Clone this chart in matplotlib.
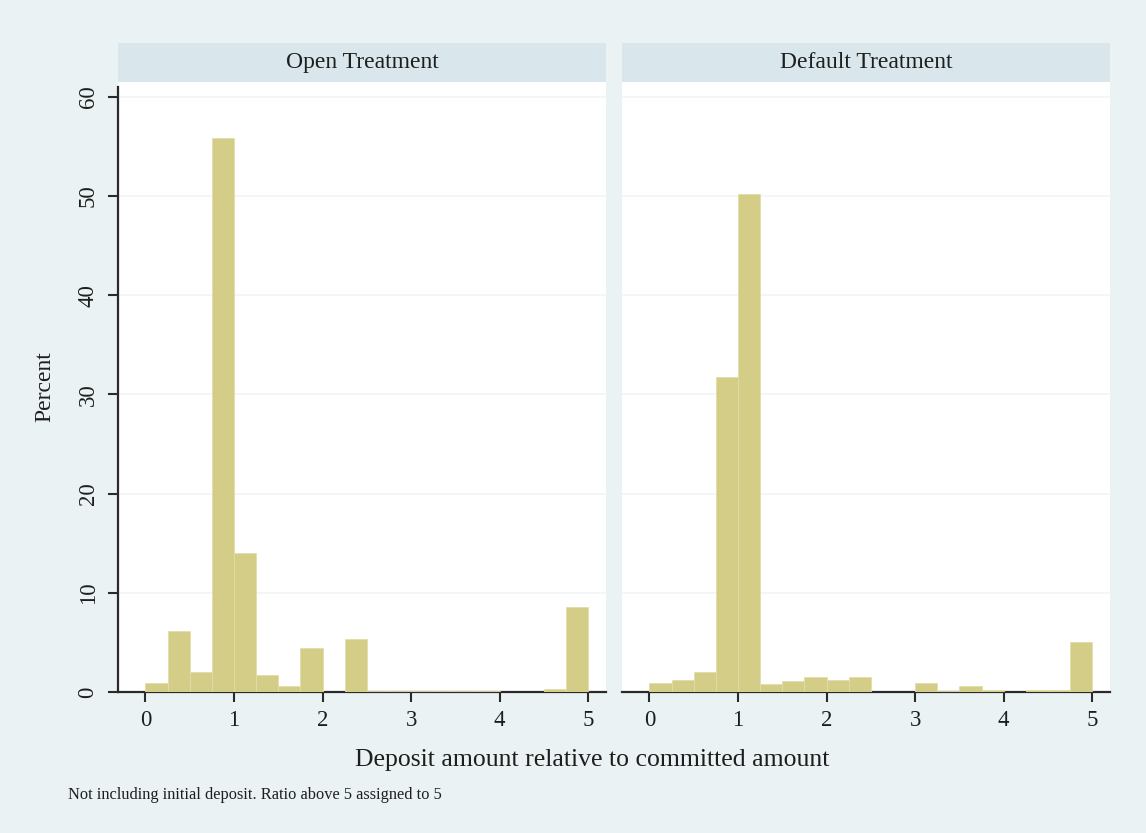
import matplotlib
matplotlib.use("Agg")
import matplotlib.pyplot as plt
import numpy as np

# Data: histogram bins of width 0.25 from 0 to 5
bin_left = [0.0, 0.25, 0.5, 0.75, 1.0, 1.25, 1.5, 1.75, 2.0, 2.25,
            2.5, 2.75, 3.0, 3.25, 3.5, 3.75, 4.0, 4.25, 4.5, 4.75]
open_pct = [0.9, 6.2, 2.0, 55.9, 14.0, 1.7, 0.6, 4.4, 0.0, 5.3,
            0.15, 0.15, 0.15, 0.15, 0.15, 0.15, 0.0, 0.0, 0.3, 8.6]
default_pct = [0.9, 1.2, 2.0, 31.8, 50.2, 0.8, 1.1, 1.5, 1.2, 1.5,
               0.0, 0.0, 0.9, 0.1, 0.6, 0.25, 0.0, 0.2, 0.2, 5.0]
panel_titles = ["Open Treatment", "Default Treatment"]
x_ticks = [0, 1, 2, 3, 4, 5]
y_ticks = [0, 10, 20, 30, 40, 50, 60]
bin_width = 0.25

BG = "#EAF2F3"
STRIP = "#D9E7EC"
BAR = "#D4CD87"
FONT = "Liberation Serif"

plt.rcParams["font.family"] = [FONT, "DejaVu Serif"]

W, H = 1146, 833
fig = plt.figure(figsize=(W / 100, H / 100), dpi=100)
fig.patch.set_facecolor(BG)

def fx(px):
    return px / W

def fy(py):
    return 1 - py / H

panels = [(118, 606), (622, 1110)]
top, bottom = 82, 692
strip_top = 43

for i, ((x0, x1), title, vals) in enumerate(zip(panels, panel_titles, [open_pct, default_pct])):
    ax = fig.add_axes([fx(x0), fy(bottom), fx(x1 - x0), (bottom - top) / H])
    ax.set_facecolor("white")
    ax.bar(bin_left, vals, width=bin_width, align="edge", color=BAR,
           edgecolor="#E2DDA8", linewidth=0.6, zorder=3)
    ax.set_xlim(-0.31, 5.2)
    ax.set_ylim(0, 61.5)
    ax.set_xticks(x_ticks)
    ax.set_yticks(y_ticks)
    ax.grid(axis="y", color="#F0F5F5", linewidth=1.2, zorder=0)
    for s in ["top", "right"]:
        ax.spines[s].set_visible(False)
    ax.spines["bottom"].set_color("#2a2a2a")
    ax.spines["bottom"].set_linewidth(1.6)
    ax.tick_params(axis="x", direction="out", length=7, width=1.5,
                   colors="#2a2a2a", labelsize=16.5, pad=6)
    ax.tick_params(axis="x", labelcolor="#1e1e1e")
    if i == 0:
        ax.spines["left"].set_color("#2a2a2a")
        ax.spines["left"].set_linewidth(1.6)
        ax.spines["left"].set_bounds(0, 61)
        ax.tick_params(axis="y", direction="out", length=7, width=1.5,
                       colors="#2a2a2a", labelsize=16.5, pad=7)
        ax.tick_params(axis="y", labelcolor="#1e1e1e")
        for lab in ax.get_yticklabels():
            lab.set_rotation(90)
            lab.set_va("center")
        ax.set_ylabel("Percent", fontsize=17, color="#1e1e1e", labelpad=16)
    else:
        ax.spines["left"].set_visible(False)
        ax.tick_params(axis="y", left=False, labelleft=False)

    sax = fig.add_axes([fx(x0), fy(top), fx(x1 - x0), (top - strip_top) / H])
    sax.set_facecolor(STRIP)
    sax.set_xticks([])
    sax.set_yticks([])
    for s in sax.spines.values():
        s.set_visible(False)
    sax.text(0.5, 0.5, title, transform=sax.transAxes, ha="center", va="center",
             fontsize=17, color="#1e1e1e")

fig.text(fx(592), fy(760), "Deposit amount relative to committed amount",
         ha="center", va="center", fontsize=18.5, color="#1e1e1e")
fig.text(fx(68), fy(795), "Not including initial deposit. Ratio above 5 assigned to 5",
         ha="left", va="center", fontsize=11.8, color="#1e1e1e")

fig.savefig("out.png", dpi=100, facecolor=BG)
